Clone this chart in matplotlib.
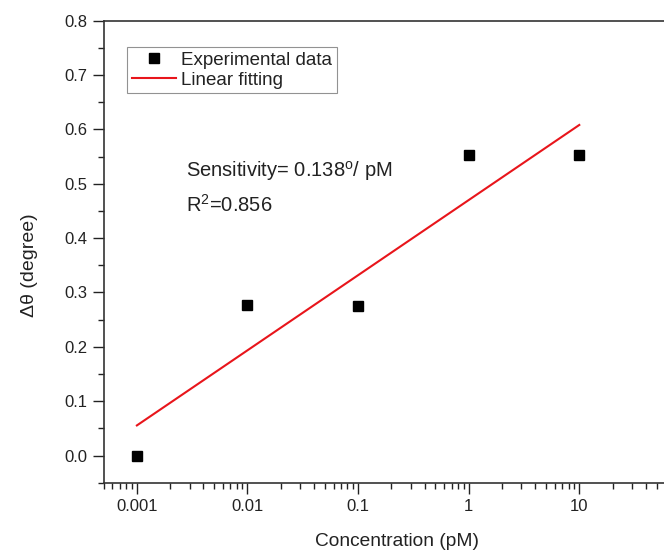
import numpy as np
import matplotlib
matplotlib.use('Agg')
import matplotlib.pyplot as plt
from matplotlib.ticker import MultipleLocator, LogLocator, FixedLocator, FixedFormatter

plt.rcParams.update({
    'font.family': ['Liberation Sans', 'DejaVu Sans'],
    'mathtext.fontset': 'custom',
    'mathtext.rm': 'Liberation Sans',
    'mathtext.it': 'Liberation Sans:italic',
    'text.color': '#222222',
    'axes.labelcolor': '#222222',
    'xtick.color': '#222222',
    'ytick.color': '#222222',
})

# datos
conc = np.array([0.001, 0.01, 0.1, 1, 10])
dtheta = np.array([0.0, 0.277, 0.276, 0.553, 0.553])
xtick_vals = [0.001, 0.01, 0.1, 1, 10]
xtick_labels = ['0.001', '0.01', '0.1', '1', '10']

# ajuste lineal en log10(c)
coefs = np.polyfit(np.log10(conc), dtheta, 1)
x_fit = np.logspace(-3, 1, 50)
y_fit = np.polyval(coefs, np.log10(x_fit))

fig = plt.figure(figsize=(6.64, 5.52), dpi=100)
ax = fig.add_axes([0.156, 0.1255, 0.883, 0.837])

ax.plot(conc, dtheta, 's', color='black', markersize=7, label='Experimental data', zorder=3)
ax.plot(x_fit, y_fit, '-', color='#e8151b', lw=1.5, label='Linear fitting')

ax.set_xscale('log')
ax.set_xlim(5e-4, 100)
ax.set_ylim(-0.05, 0.8)

ax.xaxis.set_major_locator(FixedLocator(xtick_vals))
ax.xaxis.set_major_formatter(FixedFormatter(xtick_labels))
ax.xaxis.set_minor_locator(LogLocator(base=10, subs=np.arange(2, 10)))
ax.yaxis.set_major_locator(MultipleLocator(0.1))
ax.yaxis.set_minor_locator(MultipleLocator(0.05))
ax.yaxis.set_major_formatter(plt.FuncFormatter(lambda v, p: f'{v:.1f}'))

ax.tick_params(which='major', direction='out', length=8, width=1, labelsize=12)
ax.tick_params(which='minor', direction='out', length=4.5, width=1)
ax.tick_params(top=False, right=False, which='both')
for s in ax.spines.values():
    s.set_linewidth(1.2)
    s.set_color('#333333')
ax.spines['right'].set_visible(False)

ax.set_xlabel('Concentration (pM)', fontsize=13.8, labelpad=14)
ax.set_ylabel('Δθ (degree)', fontsize=14)
ax.yaxis.set_label_coords(-0.112, 0.47)

leg = ax.legend(loc='upper left', bbox_to_anchor=(0.04, 0.943), fontsize=13.5,
                frameon=True, fancybox=False, edgecolor='#777777', borderpad=0.25,
                handlelength=2.35, handletextpad=0.3, labelspacing=0.15, borderaxespad=0)
leg.get_frame().set_linewidth(0.8)

ax.text(0.0028, 0.513, 'Sensitivity= 0.138$^{\\rm o}$/ pM', fontsize=14.5, va='baseline')
ax.text(0.0028, 0.4485, 'R$^{2}$=0.856', fontsize=14.5, va='baseline')

fig.savefig('out.png', dpi=100)
